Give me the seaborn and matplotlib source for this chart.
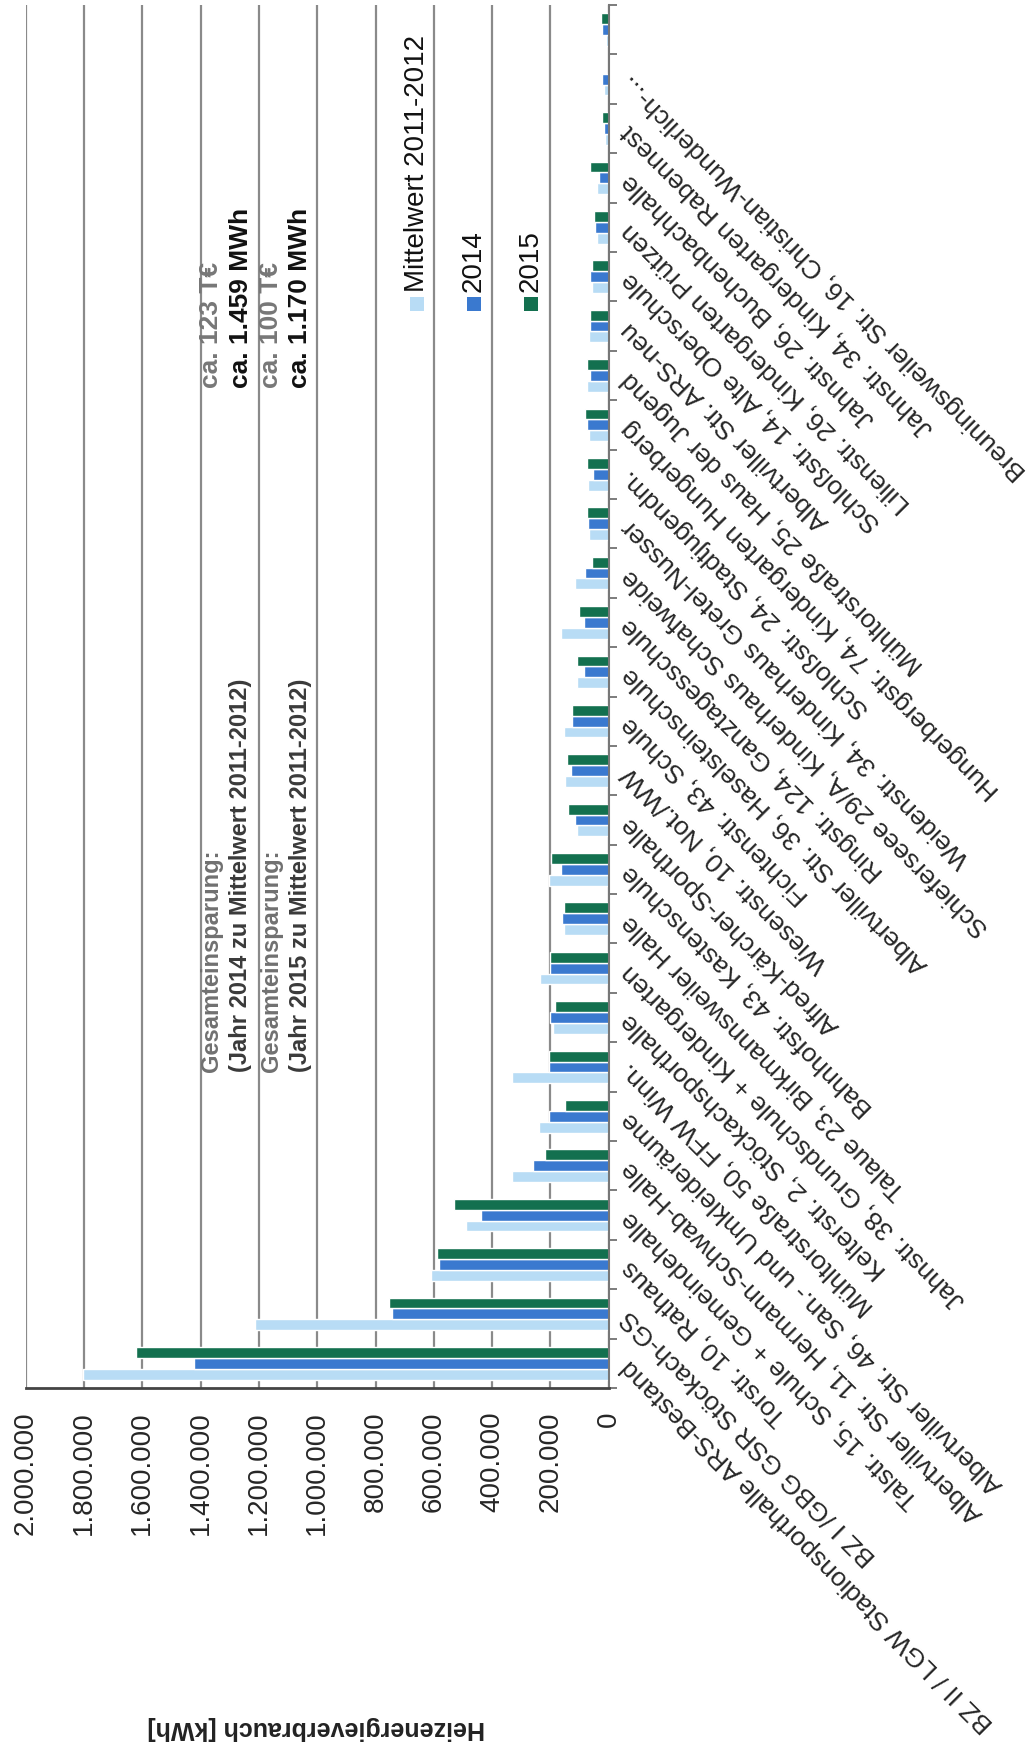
import numpy as np
import pandas as pd
import matplotlib
matplotlib.use("Agg")
import matplotlib.pyplot as plt
import seaborn as sns
from matplotlib.patches import Rectangle


# Gebäude von unten (Index 0) nach oben
gebaeude = [
    "BZ II / LGW Stadionsporthalle ARS-Bestand",
    "BZ I /GBG GSR Stöckach-GS",
    "Torstr. 10, Rathaus",
    "Talstr. 15, Schule + Gemeindehalle",
    "Albertviller Str. 11, Hermann-Schwab-Halle",
    "Albertviller Str. 46, San.- und Umkleideräume",
    "Mühltorstraße 50, FFW Winn.",
    "Kelterstr. 2, Stöckachsporthalle",
    "Jahnstr. 38, Grundschule + Kindergarten",
    "Talaue 23, Birkmannsweiler Halle",
    "Bahnhofstr. 43, Kastenschule",
    "Alfred-Kärcher-Sporthalle",
    "Wiesenstr. 10, Not./WW",
    "Fichtenstr. 43, Schule",
    "Albertviller Str. 36, Haselsteinschule",
    "Ringstr. 124, Ganztagesschule",
    "Schieferseee 29/A, Kinderhaus Schafweide",
    "Weidenstr. 34, Kinderhaus Gretel-Nusser",
    "Schloßstr. 24, Stadtjugendm.",
    "Hungerbergstr. 74, Kindergarten Hungerberg",
    "Mühltorstraße 25, Haus der Jugend",
    "Albertviller Str. ARS-neu",
    "Schloßstr. 14, Alte Oberschule",
    "Lilienstr. 26, Kindergarten Prützen",
    "Jahnstr. 26, Buchenbachhalle",
    "Jahnstr. 34, Kindergarten Rabennest",
    "Breuningsweiler Str. 16, Christian-Wunderlich-...",
    " ",
]

mittel_2011_2012 = [1803000, 1214000, 610000, 488000, 332000, 240000, 331000, 190000,
                    234000, 154000, 206000, 109000, 149000, 154000, 109000, 162000,
                    114000, 69000, 70000, 69000, 74000, 69000, 57000, 40000,
                    40000, 11000, 15000, 8000]
verbrauch_2014 = [1424000, 745000, 583000, 437000, 258000, 206000, 206000, 200000,
                  200000, 160000, 162000, 114000, 131000, 126000, 86000, 86000,
                  80000, 72000, 55000, 74000, 65000, 63000, 63000, 46000,
                  34000, 17000, 23000, 22000]
verbrauch_2015 = [1620000, 752000, 590000, 529000, 217000, 149000, 206000, 183000,
                  200000, 154000, 197000, 138000, 143000, 126000, 109000, 103000,
                  59000, 74000, 75000, 83000, 74000, 65000, 57000, 49000,
                  65000, 23000, 0, 25000]

serien = ["Mittelwert 2011-2012", "2014", "2015"]
farben = ["#b8dcf5", "#3a79cf", "#13704f"]
werte_ticks = np.arange(0, 2000001, 200000)

df = pd.DataFrame({
    "Gebäude": gebaeude * 3,
    "kWh": mittel_2011_2012 + verbrauch_2014 + verbrauch_2015,
    "Zeitraum": [s for s in serien for _ in gebaeude],
})

sns.set_style("white")
plt.rcParams["font.family"] = ["Liberation Sans", "DejaVu Sans"]

W, H = 1032, 1748
fig = plt.figure(figsize=(W / 100, H / 100), dpi=100)
x0, x1, y_top, y_bot = 25.7, 608.7, 5, 1388
ax = fig.add_axes([x0 / W, 1 - y_bot / H, (x1 - x0) / W, (y_bot - y_top) / H])


def fx(px):
    return px / W


def fy(py):
    return 1 - py / H


sns.barplot(data=df, x="kWh", y="Gebäude", hue="Zeitraum", orient="h",
            order=gebaeude, hue_order=serien, palette=farben, width=0.66,
            saturation=1, legend=False, ax=ax)

n = len(gebaeude)
ax.set_ylim(-0.5, n - 0.5)
ax.set_xlim(2000000, 0)
ax.set_axisbelow(True)
ax.grid(axis="x", color="#8a8a8a", lw=1.6)
ax.grid(axis="y", visible=False)

# Wertachse
ax.set_xticks(werte_ticks)
ax.set_xticklabels([f"{int(v):,}".replace(",", ".") for v in werte_ticks],
                   rotation=90, fontsize=20)
ax.tick_params(axis="x", direction="inout", length=14, width=1.5, color="#444444", pad=10)
ax.set_xlabel("")

# Kategorienachse (rechts)
ax.yaxis.set_ticks_position("right")
ax.set_yticks(np.arange(-0.5, n, 1))
ax.set_yticklabels([])
ax.set_yticks(np.arange(n), gebaeude, minor=True)
ax.tick_params(axis="y", which="major", direction="out", length=6, width=1.2,
               color="#666666", right=True, left=False)
ax.tick_params(axis="y", which="minor", length=0, pad=12, labelsize=19,
               labelright=True, labelleft=False)
for t in ax.get_yticklabels(minor=True):
    t.set_rotation(135)
    t.set_rotation_mode("anchor")
    t.set_ha("right")
    t.set_va("center")
ax.set_ylabel("")

for side in ["top", "left"]:
    ax.spines[side].set_visible(False)
ax.spines["bottom"].set_color("#444444")
ax.spines["bottom"].set_linewidth(2)
ax.spines["right"].set_color("#777777")
ax.spines["right"].set_linewidth(1.5)

# Achsentitel
fig.text(fx(316), fy(1728), "Heizenergieverbrauch [kWh]", rotation=180,
         ha="center", va="center", fontsize=18, fontweight="bold", color="#222222")

# Legende (gedreht)
for xc, s, c in zip([417, 474, 531], serien, farben):
    fig.text(fx(xc), fy(292), s, rotation=90, ha="center", va="bottom",
             fontsize=20, color="#111111")
    fig.add_artist(Rectangle((fx(xc - 7), fy(311)), 14 / W, 14 / H,
                             transform=fig.transFigure, color=c, lw=0))

# Textfeld Gesamteinsparung
bloecke = [
    (211, 241, "2014", "ca. 123 T€", "ca. 1.459 MWh"),
    (271, 300, "2015", "ca. 100 T€", "ca. 1.170 MWh"),
]
for xa, xb, jahr, euro, mwh in bloecke:
    fig.text(fx(xa), fy(1072), "Gesamteinsparung:", rotation=90, ha="center",
             va="bottom", fontsize=17, fontweight="bold", color="#707070")
    fig.text(fx(xb), fy(1072), f"(Jahr {jahr} zu Mittelwert 2011-2012)", rotation=90,
             ha="center", va="bottom", fontsize=17, fontweight="bold", color="#3a3a3a")
    fig.text(fx(xa), fy(388), euro, rotation=90, ha="center", va="bottom",
             fontsize=19, fontweight="bold", color="#777777")
    fig.text(fx(xb), fy(388), mwh, rotation=90, ha="center", va="bottom",
             fontsize=19, fontweight="bold", color="#111111")

fig.savefig("out.png", dpi=100)
